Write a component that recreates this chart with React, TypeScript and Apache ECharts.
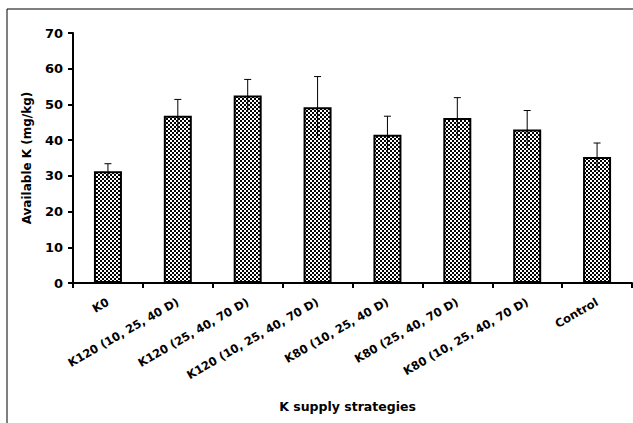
import React, { useEffect, useRef } from "react";
import * as echarts from "echarts";

const categories = [
  "K0",
  "K120 (10, 25, 40 D)",
  "K120 (25, 40, 70 D)",
  "K120 (10, 25, 40, 70 D)",
  "K80 (10, 25, 40 D)",
  "K80 (25, 40, 70 D)",
  "K80 (10, 25, 40, 70 D)",
  "Control",
];
const values = [31.3, 46.8, 52.5, 49.2, 41.5, 46.2, 43.0, 35.3];
const errors = [2.1, 4.6, 4.5, 8.6, 5.2, 5.7, 5.3, 3.9];
const yTicks = [0, 10, 20, 30, 40, 50, 60, 70];

function makePattern(): string {
  const c = document.createElement("canvas");
  c.width = 4;
  c.height = 4;
  const ctx = c.getContext("2d")!;
  ctx.fillStyle = "#ffffff";
  ctx.fillRect(0, 0, 4, 4);
  ctx.fillStyle = "#000000";
  ctx.fillRect(0, 0, 2, 2);
  ctx.fillRect(2, 2, 2, 2);
  return c.toDataURL();
}

export default function App() {
  const ref = useRef<HTMLDivElement>(null);
  useEffect(() => {
    if (!ref.current) return;
    const chart = echarts.init(ref.current, undefined, { renderer: "svg" });
    const font = "'DejaVu Sans', 'Liberation Sans', Arial, sans-serif";
    const pattern = makePattern();
    chart.setOption({
      animation: false,
      backgroundColor: "#ffffff",
      graphic: [
        {
          type: "rect",
          shape: { x: 7, y: 9, width: 700, height: 500 },
          style: { fill: "none", stroke: "#000", lineWidth: 1 },
          silent: true,
        },
      ],
      grid: { left: 73, right: 1, top: 33, bottom: 140, containLabel: false },
      xAxis: {
        type: "category",
        data: categories,
        name: "K supply strategies",
        nameLocation: "middle",
        nameGap: 117,
        nameTextStyle: {
          fontFamily: font,
          fontWeight: "bold",
          fontSize: 12.5,
          color: "#000",
          padding: [0, 10, 0, 0],
        },
        axisLine: { lineStyle: { color: "#000", width: 2 } },
        axisTick: { show: true, length: 5, lineStyle: { color: "#000", width: 2 } },
        axisLabel: {
          rotate: 30,
          interval: 0,
          margin: 18,
          fontFamily: font,
          fontWeight: "bold",
          fontSize: 11.5,
          color: "#000",
        },
      },
      yAxis: {
        type: "value",
        min: 0,
        max: 70,
        interval: 10,
        name: "Available K (mg/kg)",
        nameLocation: "middle",
        nameGap: 40,
        nameTextStyle: { fontFamily: font, fontWeight: "bold", fontSize: 12, color: "#000" },
        axisLine: { show: true, lineStyle: { color: "#000", width: 2 } },
        axisTick: { show: true, length: 5, lineStyle: { color: "#000", width: 2 } },
        splitLine: { show: false },
        axisLabel: {
          margin: 10,
          fontFamily: font,
          fontWeight: "bold",
          fontSize: 13,
          color: "#000",
          formatter: (v: number) => (yTicks.includes(v) ? String(v) : ""),
        },
      },
      series: [
        {
          type: "bar",
          data: values,
          barWidth: 28,
          itemStyle: {
            color: { image: pattern, repeat: "repeat" },
            borderColor: "#000",
            borderWidth: 2,
          },
          z: 2,
        },
        {
          type: "custom",
          data: values.map((v, i) => [i, v, errors[i]]),
          z: 3,
          renderItem: (params: any, api: any) => {
            const i = api.value(0);
            const v = api.value(1);
            const e = api.value(2);
            const top = api.coord([i, v + e]);
            const bot = api.coord([i, v - e]);
            const cap = 3.5;
            return {
              type: "group",
              children: [
                {
                  type: "line",
                  shape: { x1: top[0], y1: top[1], x2: bot[0], y2: bot[1] },
                  style: { stroke: "#000", lineWidth: 1 },
                },
                {
                  type: "line",
                  shape: { x1: top[0] - cap, y1: top[1], x2: top[0] + cap, y2: top[1] },
                  style: { stroke: "#000", lineWidth: 1 },
                },
              ],
            };
          },
        },
      ],
    });
    return () => chart.dispose();
  }, []);
  return (
    <div
      ref={ref}
      style={{ width: 633, height: 423, position: "absolute", left: 0, top: 0 }}
    />
  );
}
